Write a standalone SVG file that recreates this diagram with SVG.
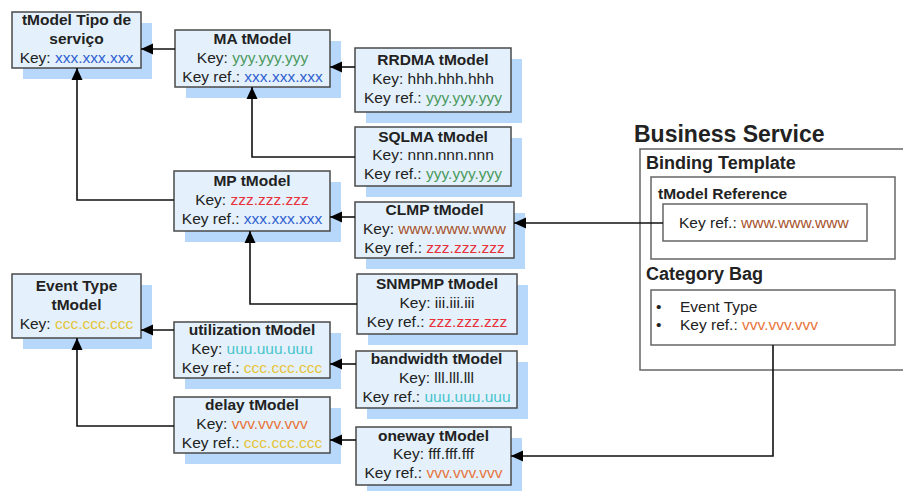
<svg xmlns="http://www.w3.org/2000/svg" width="903" height="491" viewBox="0 0 903 491">
<style>
text{font-family:"Liberation Sans",Arial,sans-serif;font-size:15.5px;fill:#222}
.t{text-anchor:middle}
.b{font-weight:bold}
.sh{fill:#b7d8fa}
.bx{fill:#e4f1fc;stroke:#4a4a4a;stroke-width:1.5}
.c{fill:none;stroke:#111;stroke-width:1.6}
.pn{fill:none;stroke:#666;stroke-width:1.5}
.xb{fill:#2f5fd0}.yg{fill:#4c9a5c}.zr{fill:#e8303a}.wb{fill:#a6522a}.cy{fill:#e6c43a}.uc{fill:#48c4cc}.vo{fill:#e8743a}
</style>
<defs>
<marker id="ah" markerWidth="12" markerHeight="12" refX="12" refY="6" orient="auto" markerUnits="userSpaceOnUse">
<path d="M0,0.5 L12,6 L0,11.5 z" fill="#000"/>
</marker>
</defs>

<g id="tipo">
<rect class="sh" x="23" y="23" width="129" height="56"/>
<rect class="bx" x="12" y="12" width="129" height="56"/>
<text class="t b" x="76.5" y="25">tModel Tipo de</text>
<text class="t b" x="76.5" y="44">serviço</text>
<text class="t" x="76.5" y="63">Key: <tspan class="xb">xxx.xxx.xxx</tspan></text>
</g>

<g id="ma">
<rect class="sh" x="186" y="41" width="155" height="57"/>
<rect class="bx" x="175" y="30" width="155" height="57"/>
<text class="t b" x="252.5" y="43.5">MA tModel</text>
<text class="t" x="252.5" y="62.5">Key: <tspan class="yg">yyy.yyy.yyy</tspan></text>
<text class="t" x="252.5" y="81.5">Key ref.: <tspan class="xb">xxx.xxx.xxx</tspan></text>
</g>

<g id="rrdma">
<rect class="sh" x="366" y="59" width="156" height="64"/>
<rect class="bx" x="355" y="48" width="156" height="64"/>
<text class="t b" x="433" y="65">RRDMA tModel</text>
<text class="t" x="433" y="84">Key: hhh.hhh.hhh</text>
<text class="t" x="433" y="103">Key ref.: <tspan class="yg">yyy.yyy.yyy</tspan></text>
</g>

<g id="sqlma">
<rect class="sh" x="366" y="138" width="156" height="59"/>
<rect class="bx" x="355" y="127" width="156" height="59"/>
<text class="t b" x="433" y="142">SQLMA tModel</text>
<text class="t" x="433" y="160">Key: nnn.nnn.nnn</text>
<text class="t" x="433" y="178.5">Key ref.: <tspan class="yg">yyy.yyy.yyy</tspan></text>
</g>

<g id="mp">
<rect class="sh" x="185" y="182" width="156" height="60"/>
<rect class="bx" x="174" y="171" width="156" height="60"/>
<text class="t b" x="252" y="186">MP tModel</text>
<text class="t" x="252" y="205">Key: <tspan class="zr">zzz.zzz.zzz</tspan></text>
<text class="t" x="252" y="224">Key ref.: <tspan class="xb">xxx.xxx.xxx</tspan></text>
</g>

<g id="clmp">
<rect class="sh" x="366" y="213" width="159" height="56"/>
<rect class="bx" x="355" y="202" width="159" height="56"/>
<text class="t b" x="434.5" y="215">CLMP tModel</text>
<text class="t" x="434.5" y="234">Key: <tspan class="wb">www.www.www</tspan></text>
<text class="t" x="434.5" y="253">Key ref.: <tspan class="zr">zzz.zzz.zzz</tspan></text>
</g>

<g id="snmpmp">
<rect class="sh" x="368" y="285" width="160" height="60"/>
<rect class="bx" x="357" y="274" width="160" height="60"/>
<text class="t b" x="437" y="288.5">SNMPMP tModel</text>
<text class="t" x="437" y="308">Key: iii.iii.iii</text>
<text class="t" x="437" y="327">Key ref.: <tspan class="zr">zzz.zzz.zzz</tspan></text>
</g>

<g id="eventtype">
<rect class="sh" x="23" y="285" width="129" height="64"/>
<rect class="bx" x="12" y="274" width="129" height="64"/>
<text class="t b" x="76.5" y="291">Event Type</text>
<text class="t b" x="76.5" y="310">tModel</text>
<text class="t" x="76.5" y="329">Key: <tspan class="cy">ccc.ccc.ccc</tspan></text>
</g>

<g id="utilization">
<rect class="sh" x="185" y="333" width="156" height="56"/>
<rect class="bx" x="174" y="322" width="156" height="56"/>
<text class="t b" x="252" y="335">utilization tModel</text>
<text class="t" x="252" y="354">Key: <tspan class="uc">uuu.uuu.uuu</tspan></text>
<text class="t" x="252" y="373">Key ref.: <tspan class="cy">ccc.ccc.ccc</tspan></text>
</g>

<g id="delay">
<rect class="sh" x="185" y="408" width="156" height="56"/>
<rect class="bx" x="174" y="397" width="156" height="56"/>
<text class="t b" x="252" y="410">delay tModel</text>
<text class="t" x="252" y="429">Key: <tspan class="vo">vvv.vvv.vvv</tspan></text>
<text class="t" x="252" y="448">Key ref.: <tspan class="cy">ccc.ccc.ccc</tspan></text>
</g>

<g id="bandwidth">
<rect class="sh" x="367" y="362" width="161" height="57"/>
<rect class="bx" x="356" y="351" width="161" height="57"/>
<text class="t b" x="436.5" y="363.5">bandwidth tModel</text>
<text class="t" x="436.5" y="382.5">Key: lll.lll.lll</text>
<text class="t" x="436.5" y="401.5">Key ref.: <tspan class="uc">uuu.uuu.uuu</tspan></text>
</g>

<g id="oneway">
<rect class="sh" x="367" y="438" width="155" height="58"/>
<rect class="bx" x="356" y="427" width="155" height="58"/>
<text class="t b" x="433.5" y="440.5">oneway tModel</text>
<text class="t" x="433.5" y="459">Key: fff.fff.fff</text>
<text class="t" x="433.5" y="477.5">Key ref.: <tspan class="vo">vvv.vvv.vvv</tspan></text>
</g>

<g id="businessservice">
<text class="b" x="634" y="142" style="font-size:23px">Business Service</text>
<rect class="pn" x="640" y="149" width="280" height="221"/>
<text class="b" x="646" y="169" style="font-size:18px">Binding Template</text>
<rect class="pn" x="651" y="177" width="244" height="82"/>
<text class="b" x="658" y="199" style="font-size:15.5px">tModel Reference</text>
<rect class="pn" x="663" y="204" width="204" height="37"/>
<text x="679" y="228">Key ref.: <tspan class="wb">www.www.www</tspan></text>
<text class="b" x="646" y="280" style="font-size:18px">Category Bag</text>
<rect class="pn" x="651" y="290" width="244" height="55"/>
<text x="656" y="312">•</text>
<text x="680" y="312">Event Type</text>
<text x="656" y="330">•</text>
<text x="680" y="330">Key ref.: <tspan class="vo">vvv.vvv.vvv</tspan></text>
</g>

<g id="connectors">
<path class="c" d="M175,49 H141" marker-end="url(#ah)"/>
<path class="c" d="M355,67 H330" marker-end="url(#ah)"/>
<path class="c" d="M355,157 H252 V87" marker-end="url(#ah)"/>
<path class="c" d="M174,200 H77 V68" marker-end="url(#ah)"/>
<path class="c" d="M355,217 H330" marker-end="url(#ah)"/>
<path class="c" d="M357,304 H250 V231" marker-end="url(#ah)"/>
<path class="c" d="M663,223 H514" marker-end="url(#ah)"/>
<path class="c" d="M174,330 H141" marker-end="url(#ah)"/>
<path class="c" d="M356,364 H330" marker-end="url(#ah)"/>
<path class="c" d="M356,440 H330" marker-end="url(#ah)"/>
<path class="c" d="M174,426 H77 V338" marker-end="url(#ah)"/>
<path class="c" d="M773,345 V456 H511" marker-end="url(#ah)"/>
</g>
</svg>
